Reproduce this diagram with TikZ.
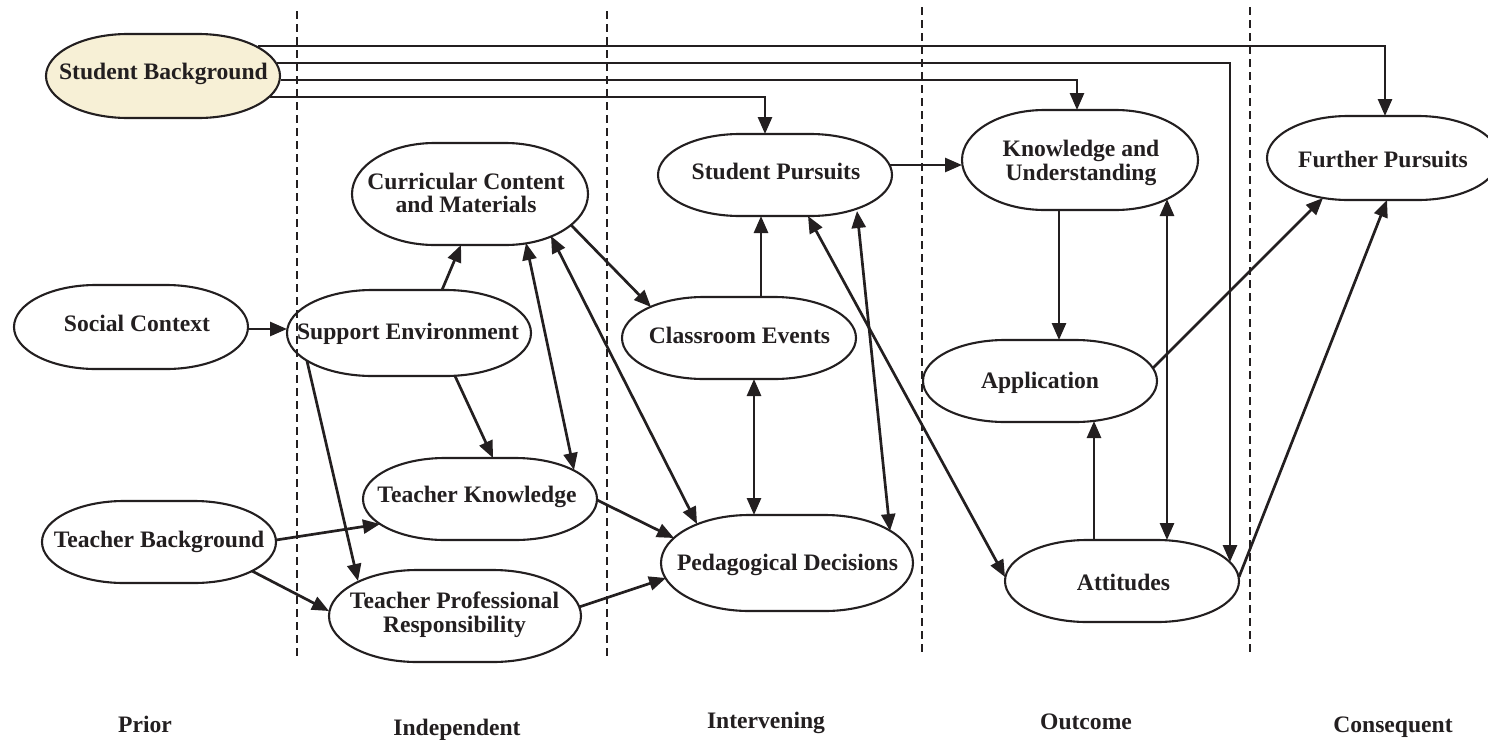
\documentclass[tikz,border=0pt]{standalone}
\usepackage{fontspec}
\setmainfont{Liberation Serif}
\usetikzlibrary{arrows.meta,calc}
\definecolor{bgfill}{RGB}{247,240,214}
\definecolor{ink}{RGB}{35,31,32}
\def\ovf{0.3}
\def\ovu{0.6866}
\def\ovk{0.5523}
\newcommand\ovalshape[6]{%
 \coordinate (#1) at (#2,#3);
 \filldraw[ovalline,fill=#6] ($(#1)+(-\ovf*#4,-#5)$) -- ($(#1)+(\ovf*#4,-#5)$)
   .. controls ($(#1)+(\ovu*#4,-#5)$) and ($(#1)+(#4,-\ovk*#5)$) .. ($(#1)+(#4,0)$)
   .. controls ($(#1)+(#4,\ovk*#5)$) and ($(#1)+(\ovu*#4,#5)$) .. ($(#1)+(\ovf*#4,#5)$)
   -- ($(#1)+(-\ovf*#4,#5)$)
   .. controls ($(#1)+(-\ovu*#4,#5)$) and ($(#1)+(-#4,\ovk*#5)$) .. ($(#1)+(-#4,0)$)
   .. controls ($(#1)+(-#4,-\ovk*#5)$) and ($(#1)+(-\ovu*#4,-#5)$) .. ($(#1)+(-\ovf*#4,-#5)$)
   -- cycle;
}
\tikzset{
 ovalline/.style={draw=ink, line width=2.1pt},
 conn/.style={draw=ink, line width=2.7pt, -{Triangle[length=17pt,width=14pt]}},
 biconn/.style={draw=ink, line width=2.7pt, {Triangle[length=17pt,width=14pt]}-{Triangle[length=17pt,width=14pt]}},
 sep/.style={draw=ink, line width=1.5pt, dash pattern=on 8pt off 5pt},
 txt/.style={font=\fontsize{23.6}{23.5}\selectfont\bfseries, text=ink, inner sep=0pt, text height=16pt, text depth=5pt},
 txttwo/.style={font=\fontsize{23.6}{23.5}\selectfont\bfseries, text=ink, inner sep=0pt, align=center},
}
\begin{document}
\begin{tikzpicture}[x=1pt,y=-1pt]
\useasboundingbox (0,0) rectangle (1488,739);
\clip (0,0) rectangle (1488,739);

% ovals
\ovalshape{sb}{163}{76}{117}{42}{bgfill}
\ovalshape{cc}{470}{194}{118}{51}{white}
\ovalshape{se}{409}{333}{122}{43}{white}
\ovalshape{sc}{131}{327}{117}{42}{white}
\ovalshape{sp}{775}{175}{117}{41}{white}
\ovalshape{ku}{1080}{160}{118}{50}{white}
\ovalshape{fp}{1383}{158}{116}{42}{white}
\ovalshape{ce}{739}{338}{117}{41}{white}
\ovalshape{ap}{1040}{381}{117}{41}{white}
\ovalshape{tk}{480}{499}{117}{41}{white}
\ovalshape{tb}{159}{542}{117}{41}{white}
\ovalshape{tpr}{455}{616}{126}{46}{white}
\ovalshape{pd}{787}{563}{126}{48}{white}
\ovalshape{at}{1122}{581}{117}{41}{white}

% separators
\draw[sep] (297,11) -- (297,656);
\draw[sep] (607,11) -- (607,656);
\draw[sep] (922,7) -- (922,656);
\draw[sep] (1250,7) -- (1250,656);

% texts
\node[txt] (sbt) at (163.5,74) {Student Background};
\node[txttwo] (cct) at (466,195.5) {Curricular Content\vphantom{Ag}\\and Materials\vphantom{Ag}};
\node[txt] (set) at (408,334) {Support Environment};
\node[txt] (sct) at (137,325.5) {Social Context};
\node[txt] (spt) at (776,174) {Student Pursuits};
\node[txttwo] (kut) at (1081,163) {Knowledge and\vphantom{Ag}\\Understanding\vphantom{Ag}};
\node[txt] (fpt) at (1383,162) {Further Pursuits};
\node[txt] (cet) at (739.5,338) {Classroom Events};
\node[txt] (apt) at (1040,383) {Application};
\node[txt] (tkt) at (477,497) {Teacher Knowledge};
\node[txt] (tbt) at (159,541.5) {Teacher Background};
\node[txttwo] (tprt) at (454.5,615) {Teacher Professional\vphantom{Ag}\\Responsibility\vphantom{Ag}};
\node[txt] (pdt) at (787.5,565) {Pedagogical Decisions};
\node[txt] (att) at (1123.5,585) {Attitudes};

\node[txt] (l1) at (145,727) {Prior};
\node[txt] (l2) at (457,729.5) {Independent};
\node[txt] (l3) at (766,723) {Intervening};
\node[txt] (l4) at (1086,723.5) {Outcome};
\node[txt] (l5) at (1393,727) {Consequent};

% student background feeds
\draw[conn] ($(sb)+(95,-30)$) -| ($(fp)+(2,-42)$);
\draw[conn] ($(sb)+(114,-13)$) -| ($(at)+(108,-19)$);
\draw[conn] ($(sb)+(118,4)$) -| ($(ku)+(-3,-50)$);
\draw[conn] ($(sb)+(107,21)$) -| ($(sp)+(-10,-41)$);

% left part
\draw[conn] ($(sc)+(117,2)$) -- ($(se)+(-122,-4)$);
\draw[conn] ($(se)+(33,-43)$) -- ($(cc)+(-9,51)$);
\draw[conn] ($(se)+(46,43)$) -- ($(tk)+(13,-41)$);
\draw[conn] ($(se)+(-102,28)$) -- ($(tpr)+(-97,-35)$);
\draw[biconn] ($(cc)+(56,49)$) -- ($(tk)+(94,-29)$);
\draw[biconn] ($(cc)+(81,42)$) -- ($(pd)+(-90,-39)$);
\draw[conn] ($(cc)+(101,31)$) -- ($(ce)+(-88,-31)$);
\draw[conn] ($(tb)+(117,-2)$) -- ($(tk)+(-100,25)$);
\draw[conn] ($(tb)+(93,29)$) -- ($(tpr)+(-126,-5)$);
\draw[conn] ($(tk)+(117,1)$) -- ($(pd)+(-113,-25)$);
\draw[conn] ($(tpr)+(124,-9)$) -- ($(pd)+(-121,15)$);

% middle
\draw[conn] ($(ce)+(22,-41)$) -- ($(sp)+(-14,41)$);
\draw[biconn] ($(ce)+(15,41)$) -- ($(pd)+(-33,-48)$);
\draw[biconn] ($(sp)+(82,36)$) -- ($(pd)+(103,-32)$);
\draw[biconn] ($(sp)+(33,41)$) -- ($(at)+(-117,-4)$);
\draw[conn] ($(sp)+(115,-10)$) -- ($(ku)+(-118,5)$);

% right part
\draw[conn] ($(ku)+(-21,50)$) -- ($(ap)+(19,-41)$);
\draw[biconn] ($(ku)+(87,39)$) -- ($(at)+(45,-41)$);
\draw[conn] ($(at)+(-28,-41)$) -- ($(ap)+(54,40)$);
\draw[conn] ($(ap)+(113,-13)$) -- ($(fp)+(-60,40)$);
\draw[conn] ($(at)+(117,-4)$) -- ($(fp)+(4,42)$);
\end{tikzpicture}
\end{document}
